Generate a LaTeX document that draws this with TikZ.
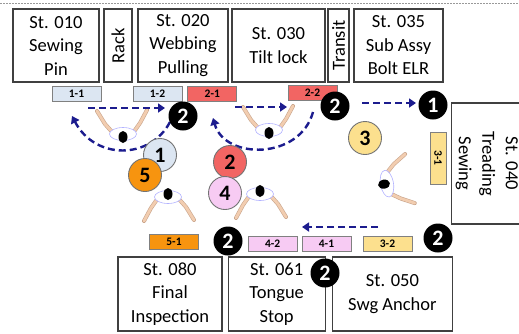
\documentclass[tikz,border=0pt]{standalone}
\usepackage{fontspec}
\setmainfont{Carlito}
\usepackage{xcolor}
\usepackage{tikz}
\usetikzlibrary{arrows.meta,positioning}

\definecolor{tagblue}{HTML}{DCE6F2}
\definecolor{tagred}{HTML}{F26563}
\definecolor{tagpink}{HTML}{F7CBF3}
\definecolor{tagyellow}{HTML}{FCE08E}
\definecolor{tagorange}{HTML}{F7940F}
\definecolor{walkblue}{HTML}{1C1C8E}
\definecolor{skin}{HTML}{F2CDB0}
\definecolor{armedge}{HTML}{C9A58C}

\tikzset{
  worker/.pic={
    % arms reaching forward
    \draw[draw=armedge, double=skin, double distance=2.8pt, line width=0.6pt, line cap=round] (-10,-3) -- (-18,-12) -- (-26,-25);
    \draw[draw=armedge, double=skin, double distance=2.8pt, line width=0.6pt, line cap=round] (10,-3) -- (17,-13) -- (24,-26);
    % shoulders and head
    \draw[draw=blue!30, fill=white, line width=0.6pt] (0,-2) ellipse [x radius=13.5, y radius=6.5];
    \fill[black] (0,1) ellipse [x radius=4.5, y radius=6];
  }
}

\begin{document}
\begin{tikzpicture}[x=1pt, y=-1pt,
    station/.style={draw=black!75, line width=1.2pt, fill=white, align=center, inner sep=0pt, font=\fontsize{18.5}{23.5}\selectfont},
    tag/.style={draw=black!50, line width=0.8pt, minimum width=49pt, minimum height=15pt, inner sep=0pt, font=\fontsize{11.5}{11.5}\selectfont\bfseries},
    badge/.style={circle, fill=black, text=white, minimum size=29pt, inner sep=0pt, font=\fontsize{22}{22}\selectfont\bfseries},
    opnum/.style={circle, draw=black!55, line width=0.9pt, minimum size=33pt, inner sep=0pt, font=\fontsize{22}{22}\selectfont\bfseries},
    walk/.style={walkblue, line width=2.4pt, dash pattern=on 7pt off 4pt, -{Triangle[length=7pt,width=9pt]}}]
    \useasboundingbox (0,0) rectangle (519,333);

    % line edge
    \draw[black!40, line width=0.8pt, dash pattern=on 2pt off 1pt] (0,3) -- (519,3);

    % Upper stations
    \node[station, minimum width=86pt, minimum height=73pt] (st010) at (56,45.5) {St. 010\\Sewing\\Pin};
    \node[station, rotate=90, minimum width=73pt, minimum height=28pt] (rack) at (118,45.5) {Rack};
    \node[station, minimum width=90pt, minimum height=73pt] (st020) at (183,45.5) {St. 020\\Webbing\\Pulling};
    \node[station, minimum width=93pt, minimum height=73pt] (st030) at (278.5,45.5) {St. 030\\Tilt lock};
    \node[station, rotate=90, minimum width=73pt, minimum height=21pt] (transit) at (338.5,45.5) {Transit};
    \node[station, minimum width=89pt, minimum height=73pt] (st035) at (398.5,45.5) {St. 035\\Sub Assy\\Bolt ELR};

    % Side station
    \node[station, rotate=-90, minimum width=121pt, minimum height=68pt] (st040) at (487,163.5)
        {\raisebox{-2.5pt}{\begin{tabular}{@{}c@{}}St. 040\\Treading\\Sewing\end{tabular}}};

    % Lower stations
    \node[station, minimum width=104pt, minimum height=74pt] (st080) at (170,294) {St. 080\\Final\\Inspection};
    \node[station, minimum width=97pt, minimum height=74pt, right=5pt of st080] (st061) {St. 061\\Tongue\\Stop};
    \node[station, minimum width=120pt, minimum height=74pt, right=6pt of st061] (st050) {St. 050\\Swg Anchor};

    % Work elements
    \node[tag, fill=tagblue] (t11) at (76.5,94) {1-1};
    \node[tag, fill=tagblue] (t12) at (157.5,94) {1-2};
    \node[tag, fill=tagred, right=5pt of t12] (t21) {2-1};
    \node[tag, fill=tagred] (t22) at (312.5,93) {2-2};
    \node[tag, fill=tagyellow, rotate=-90, minimum width=52pt, minimum height=16pt] (t31) at (438,158) {3-1};
    \node[tag, fill=tagyellow] (t32) at (387.5,243.5) {3-2};
    \node[tag, fill=tagpink] (t41) at (326.5,243.5) {4-1};
    \node[tag, fill=tagpink, left=4pt of t41] (t42) {4-2};
    \node[tag, fill=tagorange] (t51) at (174,242) {5-1};

    % Operators
    \pic at (123,136) {worker};
    \pic[rotate=180] at (168,195) {worker};
    \pic at (269,132) {worker};
    \pic[rotate=180] at (260,192) {worker};
    \pic[rotate=-80] at (385,184) {worker};

    % Walking paths
    \coordinate (w1a) at (88,108);   \coordinate (w1b) at (165,108);
    \coordinate (w2a) at (235,107);  \coordinate (w2b) at (287,107);
    \coordinate (w3a) at (362,103);  \coordinate (w3b) at (416,103);
    \coordinate (w4a) at (378,227);  \coordinate (w4b) at (302,227);
    \coordinate (a1a) at (170,122);  \coordinate (a1b) at (72,116);
    \coordinate (a2a) at (313,112);  \coordinate (a2b) at (213,118);

    \draw[walk] (w1a) -- (w1b);
    \draw[walk] (w2a) -- (w2b);
    \draw[walk] (w3a) -- (w3b);
    \draw[walk] (w4a) -- (w4b);
    \draw[walk] (a1a) .. controls (150,160) and (95,160) .. (a1b);
    \draw[walk] (a2a) .. controls (300,160) and (225,160) .. (a2b);

    % Operator numbers
    \node[opnum, fill=tagblue] (op1) at (160,155) {1};
    \node[opnum, fill=tagorange] (op5) at (145,175) {5};
    \node[opnum, fill=tagred] (op2) at (230,162) {2};
    \node[opnum, fill=tagpink] (op4) at (225,193) {4};
    \node[opnum, fill=tagyellow] (op3) at (365,138) {3};

    % Head counts
    \node[badge] (n2a) at (183,116) {2};
    \node[badge] (n2b) at (335,106) {2};
    \node[badge] (n1) at (433,105) {1};
    \node[badge] (n2c) at (228,241) {2};
    \node[badge] (n2d) at (438,238) {2};
    \node[badge] (n2e) at (325,273) {2};
\end{tikzpicture}
\end{document}
